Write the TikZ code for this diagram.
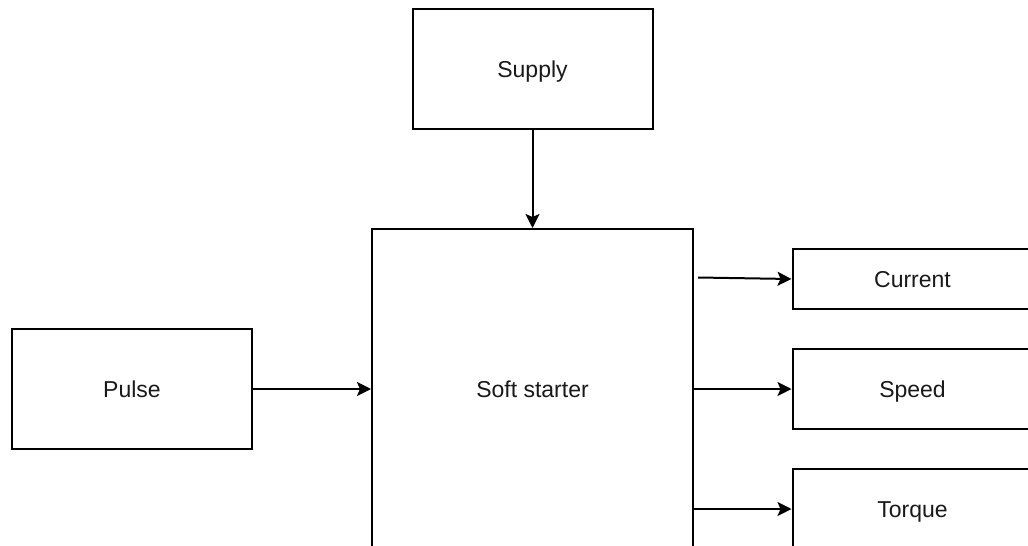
\documentclass[tikz,border=0pt]{standalone}
\usepackage{fontspec}
\setmainfont{Liberation Sans}
\usetikzlibrary{arrows.meta}
\begin{document}
\begin{tikzpicture}[x=1pt,y=-1pt,
  box/.style={draw=black,line width=2pt,fill=white,inner sep=0pt,
    text height=16pt,text depth=0pt,
    font=\fontsize{23}{26}\selectfont,text=black!90},
  link/.style={line width=2pt,-{Stealth[length=14pt,width=14pt,inset=3pt]}}]
\useasboundingbox (0,0) rectangle (1028,546);
\clip (0,0) rectangle (1028,546);
\fill[white] (0,0) rectangle (1028,546);
% blocks
\node[box,minimum width=240pt,minimum height=120pt] (supply) at (532.5,69) {Supply};
\node[box,minimum width=321pt,minimum height=320pt] (soft) at (532.5,389) {Soft starter};
\node[box,minimum width=240pt,minimum height=120pt] (pulse) at (132,389) {Pulse};
\node[box,minimum width=240pt,minimum height=60pt] (current) at (912.5,279) {Current};
\node[box,minimum width=240pt,minimum height=80pt] (speed) at (912.5,389) {Speed};
\node[box,minimum width=240pt,minimum height=80pt] (torque) at (912.5,509) {Torque};
% connectors
\coordinate (cstart) at (698,277.5);
\draw[link] (supply.south) -- (soft.north);
\draw[link] (pulse.east) -- (pulse.east -| soft.west);
\draw[link] (cstart) -- (current.west);
\draw[link] (soft.east |- speed.west) -- (speed.west);
\draw[link] (soft.east |- torque.west) -- (torque.west);
\end{tikzpicture}
\end{document}
